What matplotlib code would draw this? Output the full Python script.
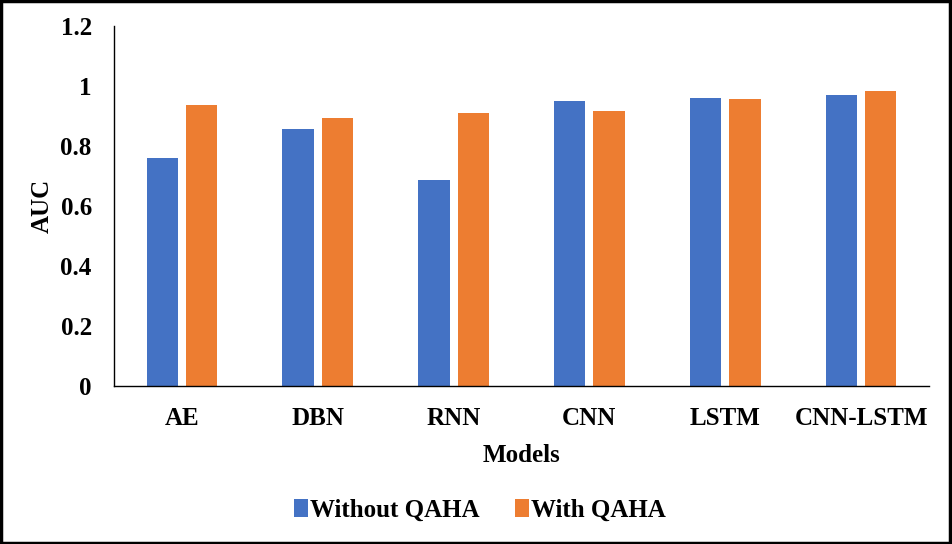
import numpy as np
import matplotlib.pyplot as plt
from matplotlib.patches import Rectangle

models = ["AE", "DBN", "RNN", "CNN", "LSTM", "CNN-LSTM"]
without_qaha = [0.76, 0.857, 0.687, 0.95, 0.96, 0.97]
with_qaha = [0.937, 0.893, 0.91, 0.917, 0.957, 0.983]

plt.rcParams["font.family"] = ["Liberation Serif", "DejaVu Serif"]
plt.rcParams["font.weight"] = "bold"

fig = plt.figure(figsize=(9.52, 5.44), dpi=100)
ax = fig.add_axes([114 / 952, 1 - 386 / 544, (929 - 114) / 952, (386 - 26) / 544])

x = np.arange(len(models))
w = 0.23
off = 0.145
ax.bar(x - off, without_qaha, width=w, color="#4472C4", label="Without QAHA")
ax.bar(x + off, with_qaha, width=w, color="#ED7D31", label="With QAHA")

ax.set_xlim(-0.5, len(models) - 0.5)
ax.set_ylim(0, 1.2)
ax.set_yticks([0, 0.2, 0.4, 0.6, 0.8, 1.0, 1.2])
ax.set_yticklabels(["0", "0.2", "0.4", "0.6", "0.8", "1", "1.2"])
ax.set_xticks(x)
ax.set_xticklabels(models)
ax.tick_params(axis="both", length=0, labelsize=18)
ax.tick_params(axis="x", pad=15)
ax.tick_params(axis="y", pad=16)
for lbl in ax.get_xticklabels() + ax.get_yticklabels():
    lbl.set_fontweight("bold")

for s in ["top", "right"]:
    ax.spines[s].set_visible(False)
ax.spines["left"].set_linewidth(1.0)
ax.spines["bottom"].set_linewidth(1.0)

ax.set_xlabel("Models", fontsize=18, fontweight="bold", labelpad=10)
ax.set_ylabel("AUC", fontsize=18, fontweight="bold", labelpad=5)

fig.legend(loc="center", bbox_to_anchor=(480 / 952, 1 - 510 / 544), ncol=2,
           frameon=False, prop={"size": 18, "weight": "bold"},
           handlelength=0.55, handleheight=0.7, handletextpad=0.1, columnspacing=1.4)

# black frame around the whole figure
fig.patches.append(Rectangle((0.001, 0.002), 0.997, 0.996, transform=fig.transFigure,
                             fill=False, edgecolor="black", linewidth=2.5))

plt.savefig("out.png", dpi=100)
